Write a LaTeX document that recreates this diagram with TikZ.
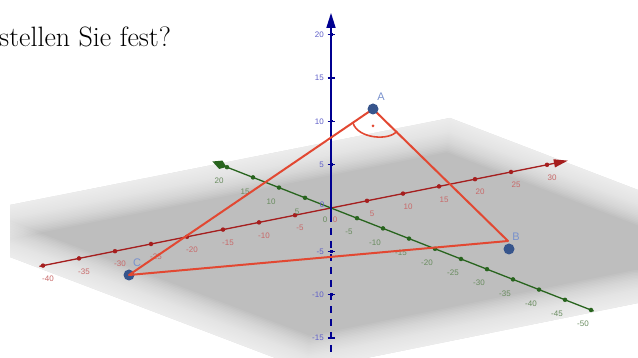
\documentclass[tikz,border=0pt]{standalone}
\usepackage{fontspec}
\newfontfamily\ggfont{Liberation Sans}
\usetikzlibrary{arrows.meta}
\definecolor{planegray}{RGB}{190,190,190}
\definecolor{xaxcol}{RGB}{165,30,30}
\definecolor{xlabcol}{RGB}{200,105,105}
\definecolor{yaxcol}{RGB}{40,100,30}
\definecolor{ylabcol}{RGB}{105,140,95}
\definecolor{zaxcol}{RGB}{0,0,145}
\definecolor{zlabcol}{RGB}{95,95,200}
\definecolor{tricol}{RGB}{226,72,50}
\definecolor{ptcol}{RGB}{55,85,140}
\definecolor{ptlabcol}{RGB}{120,145,205}
\tikzset{
  xlab/.style={text=xlabcol, font=\ggfont\fontsize{8}{9}\selectfont, inner sep=0pt},
  ylab/.style={text=ylabcol, font=\ggfont\fontsize{8}{9}\selectfont, inner sep=0pt},
  zlab/.style={text=zlabcol, font=\ggfont\fontsize{8}{9}\selectfont, inner sep=0pt},
  xdot/.style={circle, fill=xaxcol, inner sep=0pt, minimum size=4.5pt},
  ydot/.style={circle, fill=yaxcol, inner sep=0pt, minimum size=4.5pt},
  ptdot/.style={circle, fill=ptcol, inner sep=0pt, minimum size=11pt},
  ptlab/.style={text=ptlabcol, font=\ggfont\fontsize{11}{13}\selectfont, inner sep=0pt},
  tri/.style={draw=tricol, line width=2pt, line join=round},
}
\begin{document}
\begin{tikzpicture}[x=1pt,y=1pt]
\useasboundingbox (0,0) rectangle (638,358);
\begin{scope}
  \clip (0,0) rectangle (638,358);
  % plane
  \fill[planegray] (10,153) -- (450,240) -- (638,168) -- (638,55) -- (307,-12) -- (10,101) -- cycle;
  \begin{scope}
    \clip (10,153) -- (450,240) -- (638,168) -- (638,55) -- (307,-12) -- (10,101) -- cycle;
    \foreach \k in {1,...,22}{
      \draw[white, line width=3*\k pt, opacity=0.07, line join=round] (-20,147) -- (10,153) -- (450,240) -- (638,168) -- (700,144);
      \draw[white, line width=3*\k pt, opacity=0.07, line join=round] (700,42) -- (638,55) -- (307,-12) -- (10,101) -- (-20,113);
    }
  \end{scope}
  \node[anchor=base west, inner sep=0pt, font=\fontsize{28}{32}\selectfont] (question) at (-1,311) {stellen Sie fest?};
\end{scope}

\begin{scope}[shift={(331,150)}, x={(7.2pt,1.44pt)}, y={(-5.2pt,2.04pt)}, z={(0pt,8.67pt)}]
  \coordinate (O) at (0,0,0);
  % x axis
  \coordinate (xneg) at (-40.5,0,0);
  \coordinate (xpos) at (32.9,0,0);
  \draw[xaxcol, line width=1.3pt, -{Triangle[length=14pt,width=8pt]}] (xneg) -- (xpos);
  \foreach \i in {-40,-35,...,-5,5,10,...,30}{
    \node[xdot] (xd\i) at (\i,0,0) {};
    \node[xlab] (xl\i) at ([xshift=5pt,yshift=-13pt]xd\i) {\i};
  }
  % y axis
  \coordinate (yneg) at (0,-50.5,0);
  \coordinate (ypos) at (0,22.8,0);
  \draw[yaxcol, line width=1.3pt, -{Kite[length=15pt,width=9pt,inset=6pt]}] (yneg) -- (ypos);
  \foreach \i in {-50,-45,...,-5,5,10,...,20}{
    \node[ydot] (yd\i) at (0,\i,0) {};
    \node[ylab] (yl\i) at ([xshift=-8pt,yshift=-14pt]yd\i) {\i};
  }
  % z axis
  \coordinate (ztop) at (0,0,22.5);
  \coordinate (zbot) at (0,0,-17.4);
  \coordinate (zsol) at (0,0,-0.8);
  \draw[zaxcol, line width=1.5pt, -{Triangle[length=15pt,width=9pt]}] (zsol) -- (ztop);
  \draw[zaxcol, line width=1.5pt, dash pattern=on 7pt off 6pt] (zsol) -- (zbot);
  \foreach \i in {-15,-10,-5,5,10,15,20}{
    \coordinate (zt\i) at (0,0,\i);
    \draw[zaxcol, line width=1.5pt] ([xshift=-3.5pt]zt\i) -- ([xshift=3.5pt]zt\i);
    \draw[zaxcol, line width=3pt] ([yshift=-1.2pt]zt\i) -- ([yshift=1.2pt]zt\i);
    \node[zlab, anchor=east] (zl\i) at ([xshift=-7pt]zt\i) {\i};
  }
  \node[zlab] (zl0) at ([xshift=-9pt,yshift=3pt]O) {0};
  \node[ylab] (yl0) at ([xshift=-6pt,yshift=-12pt]O) {0};
  \node[xlab] (xl0) at ([xshift=4pt,yshift=-12pt]O) {0};
\end{scope}

% triangle ABC
\coordinate (Bc) at (508,117);
\node[ptdot] (B) at (509,109) {};
\node[ptdot] (C) at (129,83) {};
\coordinate (Ac) at (373,249);
\draw[tri] (Ac) -- (Bc) -- (C.center) -- cycle;
\node[ptdot] (A) at (373,249) {};
\node[ptlab] (Alab) at (381,261) {A};
\node[ptlab] (Blab) at (516,121) {B};
\node[ptlab] (Clab) at (137,95) {C};
% right angle mark
\coordinate (r1) at (353,235);
\coordinate (r2) at (397,227);
\draw[tricol, line width=1.6pt] (r1) .. controls (358,219) and (390,217) .. (r2);
\node[circle, fill=tricol, inner sep=0pt, minimum size=3pt] (rdot) at (373,232) {};
\end{tikzpicture}
\end{document}
